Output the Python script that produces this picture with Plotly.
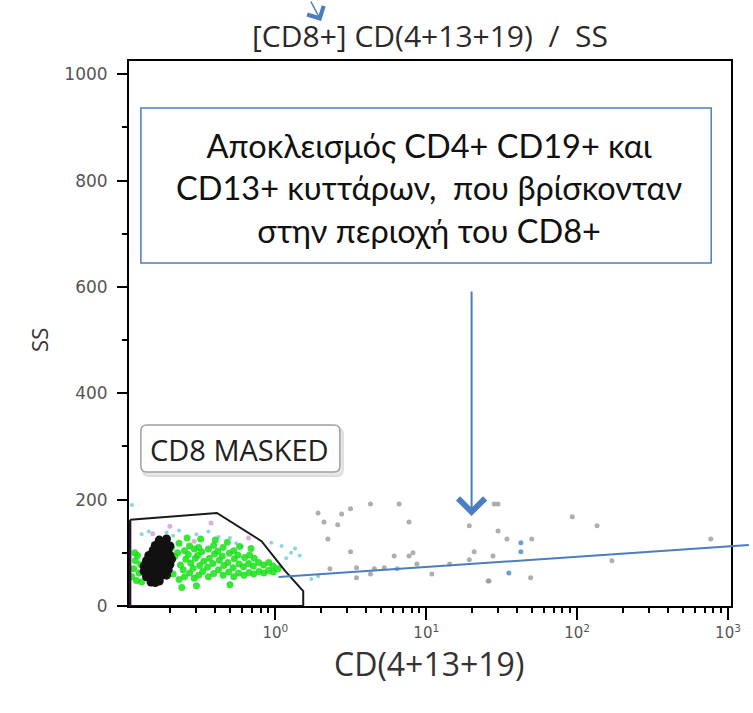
import plotly.graph_objects as go

# ---------------- data ----------------
# gate vertices (CD value, SS)
gate_x = [0.109, 0.41, 0.81, 1.16, 1.53, 1.53, 0.109, 0.109]
gate_y = [162, 175, 122, 66, 28, 0, 0, 162]

# events piled up at the axis minimum (purple)
edge_x = [0.1085, 0.1085]
edge_y = [2, 160]

# dense black population
black_x = [0.15, 0.16, 0.17,
           0.14, 0.15, 0.16, 0.175, 0.19,
           0.135, 0.145, 0.155, 0.165, 0.18, 0.195,
           0.135, 0.145, 0.155, 0.17, 0.185, 0.2,
           0.14, 0.15, 0.16, 0.175, 0.19, 0.205,
           0.145, 0.16, 0.175, 0.19, 0.2,
           0.155, 0.17, 0.185, 0.195,
           0.16, 0.18, 0.2,
           0.17, 0.19]
black_y = [45, 44, 47,
           55, 56, 54, 57, 58,
           65, 66, 64, 67, 65, 68,
           75, 76, 74, 77, 75, 78,
           85, 86, 84, 87, 85, 88,
           95, 96, 94, 97, 95,
           105, 104, 107, 106,
           114, 116, 113,
           124, 126]

# green population
green_x = [0.112, 0.115, 0.118, 0.12, 0.125, 0.128, 0.122, 0.13, 0.117, 0.133,
           0.21, 0.215, 0.205, 0.23, 0.235, 0.225, 0.23,
           0.25, 0.245, 0.255, 0.25, 0.27, 0.275, 0.265, 0.27,
           0.29, 0.285, 0.295, 0.29, 0.31, 0.315, 0.305, 0.31,
           0.33, 0.335, 0.325, 0.36, 0.355, 0.365, 0.36,
           0.39, 0.385, 0.395, 0.39, 0.42, 0.425, 0.415,
           0.45, 0.455, 0.445, 0.45, 0.49, 0.485, 0.495,
           0.53, 0.525, 0.535, 0.53, 0.57, 0.575, 0.565,
           0.62, 0.615, 0.625, 0.67, 0.665, 0.675,
           0.72, 0.715, 0.725, 0.78, 0.775, 0.84, 0.835,
           0.90, 0.905, 0.97, 0.965, 1.04,
           0.30, 0.50, 0.24, 0.26, 0.32, 0.40, 0.48, 0.58, 0.69]
green_y = [55, 70, 85, 48, 62, 78, 95, 45, 100, 66,
           60, 93, 110, 50, 77, 100, 118,
           55, 68, 88, 104, 62, 81, 97, 113,
           52, 71, 90, 107, 58, 76, 95, 110,
           65, 84, 102, 55, 73, 90, 107,
           61, 80, 98, 114, 68, 86, 103,
           58, 76, 94, 110, 64, 82, 99,
           55, 72, 89, 104, 62, 79, 96,
           58, 74, 91, 63, 80, 96,
           60, 75, 90, 65, 82, 62, 77,
           67, 82, 64, 75, 70,
           38, 40, 35, 128, 126, 124, 120, 112, 108]

# light blue / cyan events
cyan_x = [0.13, 0.145, 0.19, 0.21, 0.23, 0.30, 0.36, 0.42, 0.50, 0.55, 0.60,
          0.94, 1.10, 1.27, 1.18, 1.35, 1.45, 1.73, 1.92, 0.112]
cyan_y = [135, 140, 138, 132, 142, 135, 140, 130, 128, 118, 112,
          119, 113, 100, 90, 108, 95, 51, 56, 190]

# pink events
pink_x = [0.154, 0.29, 0.375, 0.665, 0.20]
pink_y = [136, 122, 156, 128, 150]

# gray (out of gate) events
gray_x = [1.92, 2.10, 2.59, 2.75, 3.15, 4.27, 6.61, 7.69, 2.23, 3.15, 6.13, 7.69,
          8.17, 8.67, 2.30, 3.45, 3.45, 4.27, 4.53, 5.27, 6.41, 10.9, 14.3, 19.3,
          20.8, 19.3, 25.7, 28.2, 29.9, 29.9, 34.3, 50.0, 27.7, 49.2, 26.1,
          92.9, 135.5, 170.0, 769.0]
gray_y = [175, 158, 153, 173, 183, 192, 192, 158, 126, 102, 94, 94,
          100, 79, 70, 72, 53, 60, 70, 72, 70, 60, 79, 87,
          102, 151, 47, 192, 192, 141, 126, 126, 94, 53, 47,
          168, 151, 85, 126]

# blue events
blue_x = [42.4, 42.4, 35.3]
blue_y = [119, 102, 62]

x_tick_vals = [1, 10, 100, 1000]
x_tick_text = ["10<sup>0</sup>", "10<sup>1</sup>", "10<sup>2</sup>", "10<sup>3</sup>"]
x_minor_vals = [m * d for d in (0.1, 1, 10, 100) for m in range(2, 10)]
y_tick_vals = [0, 200, 400, 600, 800, 1000]

# ---------------- layout helpers (pixel -> paper) ----------------
W, H = 753, 713
L, R, T, B = 129, 16, 61, 107
PW, PH = W - L - R, H - T - B


def px(x):
    return (x - L) / PW


def py(y):
    return (H - B - y) / PH


def rounded_rect(x0, y0, x1, y1, r):
    a0, a1 = px(x0), px(x1)
    b0, b1 = py(y1), py(y0)  # bottom, top in paper
    rx, ry = r / PW, r / PH
    return (f"M{a0+rx},{b1} L{a1-rx},{b1} Q{a1},{b1} {a1},{b1-ry} "
            f"L{a1},{b0+ry} Q{a1},{b0} {a1-rx},{b0} L{a0+rx},{b0} "
            f"Q{a0},{b0} {a0},{b0+ry} L{a0},{b1-ry} Q{a0},{b1} {a0+rx},{b1} Z")


fig = go.Figure()

fig.add_trace(go.Scatter(x=gray_x, y=gray_y, mode="markers",
                         marker=dict(size=5, color="#9a9a9a", opacity=0.8), hoverinfo="skip"))
fig.add_trace(go.Scatter(x=blue_x, y=blue_y, mode="markers",
                         marker=dict(size=5, color="#4f8fc6", opacity=0.85), hoverinfo="skip"))
fig.add_trace(go.Scatter(x=cyan_x, y=cyan_y, mode="markers",
                         marker=dict(size=4, color="#6cc8ea", opacity=0.8), hoverinfo="skip"))
fig.add_trace(go.Scatter(x=pink_x, y=pink_y, mode="markers",
                         marker=dict(size=5, color="#d69ad6", opacity=0.8), hoverinfo="skip"))
fig.add_trace(go.Scatter(x=green_x, y=green_y, mode="markers",
                         marker=dict(size=7, color="#18e018", opacity=0.85), hoverinfo="skip"))
fig.add_trace(go.Scatter(x=black_x, y=black_y, mode="markers",
                         marker=dict(size=9, color="#111111"), hoverinfo="skip"))
fig.add_trace(go.Scatter(x=edge_x, y=edge_y, mode="lines",
                         line=dict(color="#8a1a9e", width=3), hoverinfo="skip"))
fig.add_trace(go.Scatter(x=gate_x, y=gate_y, mode="lines",
                         line=dict(color="#1a1a1a", width=2), hoverinfo="skip"))

fig.update_layout(
    width=W, height=H,
    margin=dict(l=L, r=R, t=T, b=B),
    paper_bgcolor="white", plot_bgcolor="white",
    showlegend=False,
    font=dict(family="Open Sans, DejaVu Sans, sans-serif", color="#333"),
    title=dict(text="[CD8+] CD(4+13+19)  /  SS", x=px(433), xref="paper", xanchor="center",
               y=1 - 36 / H, yanchor="middle",
               font=dict(size=30, color="#2a2a2a", family="Open Sans, sans-serif")),
    xaxis=dict(type="log", range=[-0.97, 3.02], showgrid=False, zeroline=False,
               showline=True, linecolor="black", linewidth=2, mirror=True,
               ticks="outside", ticklen=12, tickwidth=1.5, tickcolor="black",
               tickmode="array", tickvals=x_tick_vals, ticktext=x_tick_text,
               tickfont=dict(size=15, color="#555", family="DejaVu Sans, sans-serif"),
               minor=dict(tickmode="array", tickvals=x_minor_vals, ticks="outside",
                          ticklen=5, tickwidth=1.5, tickcolor="black")),
    yaxis=dict(range=[0, 1025], showgrid=False, zeroline=False,
               showline=True, linecolor="black", linewidth=2, mirror=True,
               ticks="outside", ticklen=10, tickwidth=1.5, tickcolor="black",
               tickmode="array", tickvals=y_tick_vals, ticklabelstandoff=6,
               tickfont=dict(size=17, color="#555", family="DejaVu Sans, sans-serif"),
               minor=dict(dtick=100, ticks="outside", ticklen=5, tickwidth=1.5, tickcolor="black")),
)

shapes = [
    # explanation box
    dict(type="rect", xref="paper", yref="paper", x0=px(141), x1=px(717), y0=py(263), y1=py(108),
         line=dict(color="#4a7ebf", width=1.5), fillcolor="white", layer="above"),
    # CD8 MASKED label shadow + box
    dict(type="path", xref="paper", yref="paper", path=rounded_rect(143, 428, 345, 476, 6),
         line=dict(color="#dddddd", width=2), fillcolor="#e8e8e8", layer="above"),
    dict(type="path", xref="paper", yref="paper", path=rounded_rect(141, 425, 342, 472, 6),
         line=dict(color="#a0a0a0", width=1.5), fillcolor="white", layer="above"),
    # long pointer line
    dict(type="line", xref="paper", yref="paper", x0=px(280), y0=py(577), x1=px(755), y1=py(545),
         line=dict(color="#4a7ebf", width=2), layer="above"),
]
fig.update_layout(shapes=shapes)

annotations = [
    dict(text="Αποκλεισμός CD4+ CD19+ και<br>CD13+ κυττάρων,\u00a0 που βρίσκονταν<br>στην περιοχή του CD8+",
         xref="paper", yref="paper", x=px(432), y=py(188), xanchor="center", yanchor="middle",
         showarrow=False, align="center",
         font=dict(size=32.5, color="#111", family="Lato, Open Sans, sans-serif")),
    dict(text="CD8 MASKED", xref="paper", yref="paper", x=px(241), y=py(449),
         xanchor="center", yanchor="middle", showarrow=False,
         font=dict(size=29, color="#222", family="Open Sans, sans-serif")),
    dict(text="CD(4+13+19)", xref="paper", yref="paper", x=px(432), y=py(664),
         xanchor="center", yanchor="middle", showarrow=False,
         font=dict(size=32, color="#333", family="Open Sans, sans-serif")),
    dict(text="SS", xref="paper", yref="paper", x=px(38), y=py(340),
         xanchor="center", yanchor="middle", showarrow=False, textangle=-90,
         font=dict(size=22, color="#333", family="Open Sans, sans-serif")),
    # down arrow from the box
    dict(text="", xref="paper", yref="paper", x=px(475), y=py(516), ax=0, ay=-226,
         showarrow=True, arrowhead=4, arrowsize=2.6, arrowwidth=2, arrowcolor="#4a7ebf"),
    # small arrow at the top pointing to the title
    dict(text="", xref="paper", yref="paper", x=px(323), y=py(21), ax=-11, ay=-28,
         showarrow=True, arrowhead=4, arrowsize=2.4, arrowwidth=1.5, arrowcolor="#4a7ebf"),
]
fig.update_layout(annotations=annotations)

fig.write_html("out.html")
